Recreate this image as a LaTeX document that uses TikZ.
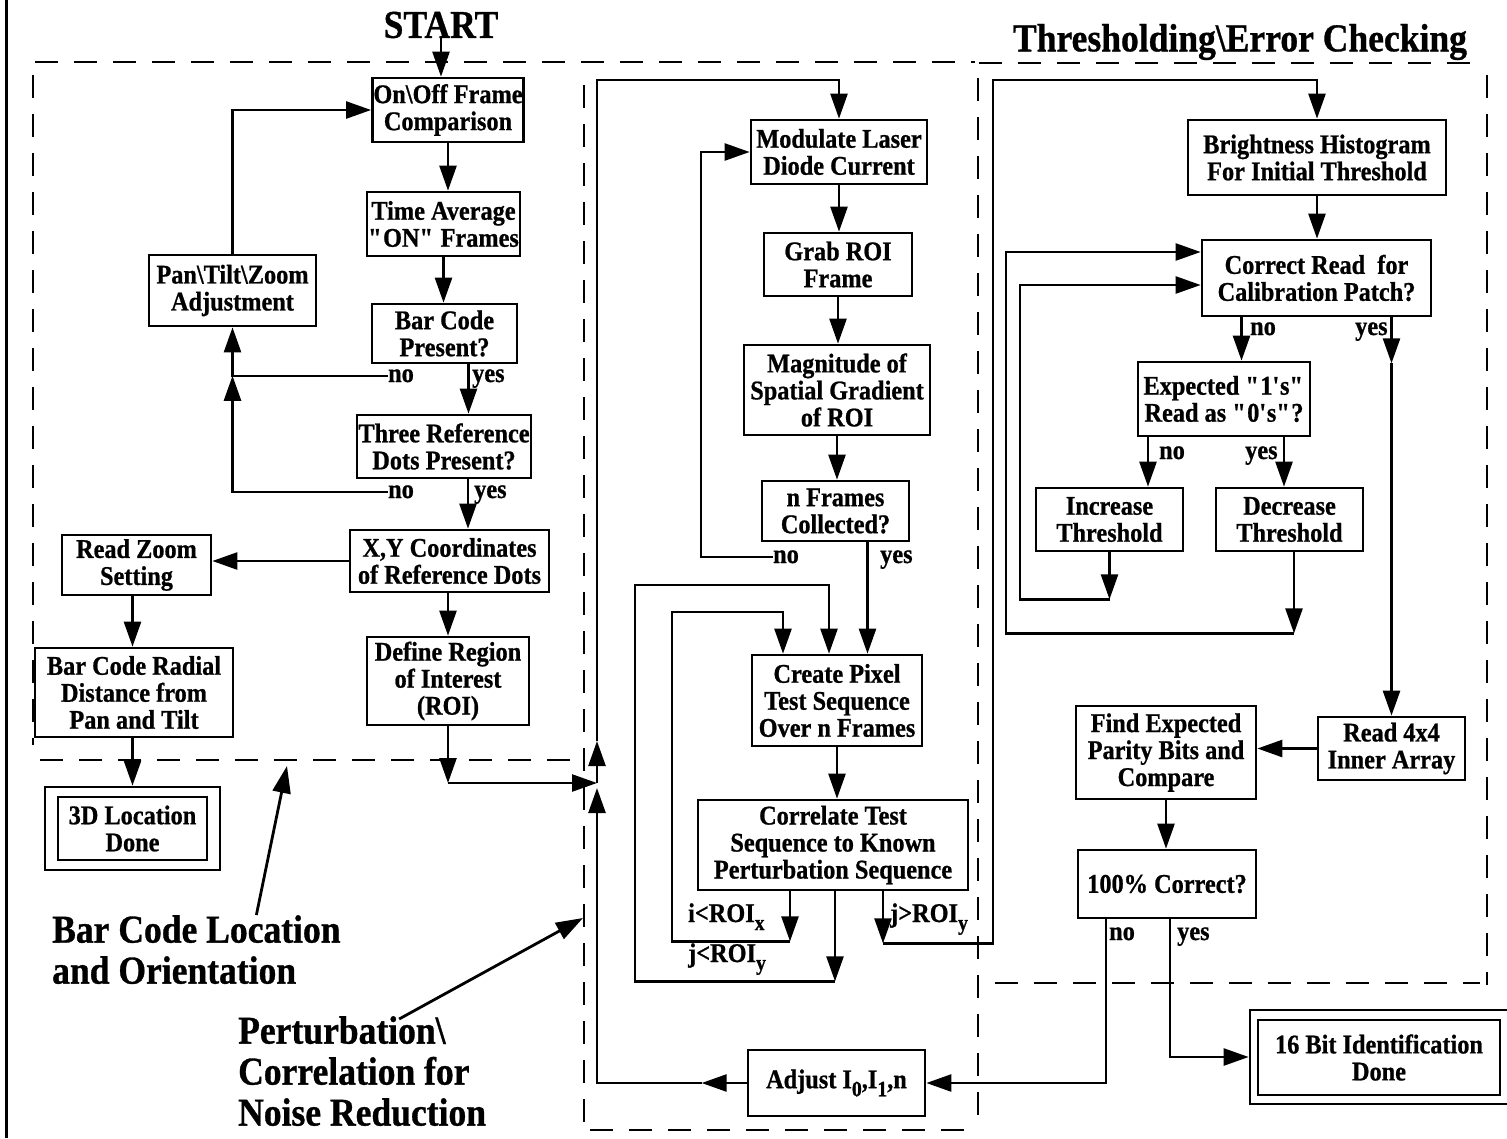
\documentclass[tikz,border=0pt]{standalone}
\usepackage{fontspec}
\setmainfont{Liberation Serif}
\newfontfamily\condbold{Liberation Serif}[UprightFont=* Bold, FakeStretch=0.9, FakeBold=0.8]
\usetikzlibrary{arrows.meta}

\newcommand{\boxfont}{\condbold\fontsize{27}{27}\selectfont}
\newcommand{\bigfont}{\condbold\fontsize{39.5}{41}\selectfont}
\newcommand{\lowr}[1]{\raisebox{-0.3em}{\fontsize{22}{22}\selectfont #1}}
\newcommand{\qd}{\textquotedbl}
\newcommand{\qs}{\textquotesingle}

\begin{document}
\begin{tikzpicture}[x=1pt,y=-1pt,
  blk/.style={draw, line width=2.7pt, align=center, inner sep=1pt, font=\boxfont},
  outerframe/.style={draw, line width=2.7pt, inner sep=0pt},
  lbl/.style={font=\boxfont, inner sep=0pt, anchor=base west},
  big/.style={font=\bigfont, inner sep=0pt},
  arr/.style={line width=2.5pt, -{Triangle[length=25pt,width=17pt]}},
  ptr/.style={line width=2.8pt, -{Triangle[length=27pt,width=18pt]}},
  zone/.style={line width=2pt, dash pattern=on 23pt off 16pt},
]
\useasboundingbox (0,0) rectangle (1507,1138);
\clip (0,0) rectangle (1507,1138);

% page rule on the left
\draw[line width=3pt] (6,0) -- (6,1138);

% dashed outlines of the three stages
\draw[zone] (35,62) -- (975,62);
\draw[zone] (33,75) -- (33,745);
\draw[zone] (40,760) -- (584,760);
\draw[zone] (584,85) -- (584,1130);
\draw[zone] (1470,63) -- (978,63) -- (978,1130);
\draw[zone] (590,1130) -- (975,1130);
\draw[zone] (1487,75) -- (1487,985);
\draw[zone] (995,983) -- (1480,983);

% titles
\node[big] (start) at (441,25) {START};
\node[big] (thr) at (1240,42) {Thresholding\textbackslash Error Checking};
\node[big, anchor=north west, align=left] (barloc) at (52,915) {Bar Code Location\\and Orientation};
\node[big, anchor=north west, align=left] (pert) at (238,1016) {Perturbation\textbackslash\\Correlation for\\Noise Reduction};

% ---- bar code location stage ----
\node[blk, minimum width=148pt, minimum height=64pt] (onoff) at (448,110) {On\textbackslash Off Frame\\Comparison};
\node[blk, minimum width=147pt, minimum height=64pt] (timeavg) at (443.5,224) {Time Average\\\qd ON\qd\ Frames};
\node[blk, minimum width=145pt, minimum height=59pt] (barcode) at (444.5,333.5) {Bar Code\\Present?};
\node[blk, minimum width=174pt, minimum height=63pt] (threeref) at (444,446.5) {Three Reference\\Dots Present?};
\node[blk, minimum width=199pt, minimum height=62pt] (xycoord) at (449.5,561) {X,Y Coordinates\\of Reference Dots};
\node[blk, minimum width=162pt, minimum height=88pt] (defroi) at (448,681) {Define Region\\of Interest\\(ROI)};
\node[blk, minimum width=167pt, minimum height=71pt] (pantilt) at (232.5,290.5) {Pan\textbackslash Tilt\textbackslash Zoom\\Adjustment};
\node[blk, minimum width=149pt, minimum height=60pt] (readzoom) at (136.5,565) {Read Zoom\\Setting};
\node[blk, minimum width=198pt, minimum height=89pt] (radial) at (134,692.5) {Bar Code Radial\\Distance from\\Pan and Tilt};
\node[blk, minimum width=149pt, minimum height=63pt] (loc3d) at (132.5,828.5) {3D Location\\Done};
\node[outerframe, minimum width=175pt, minimum height=83pt] (loc3dbox) at (loc3d) {};

\node[lbl] (bno) at (388,382) {no};
\node[lbl] (byes) at (472,382) {yes};
\node[lbl] (tno) at (388,498) {no};
\node[lbl] (tyes) at (474,498) {yes};

\draw[arr] (start.south) -- (start.south |- onoff.north);
\draw[arr] (onoff.south) -- (onoff.south |- timeavg.north);
\draw[arr] (timeavg.south) -- (timeavg.south |- barcode.north);
\draw[arr] ([xshift=24pt]barcode.south) coordinate (a1) -- (a1 |- threeref.north);
\draw[arr] ([xshift=24pt]threeref.south) coordinate (a2) -- (a2 |- xycoord.north);
\draw[arr] (bno.west) -- (bno.west -| pantilt.south) -- (pantilt.south);
\draw[arr] (tno.west) -- (tno.west -| pantilt.south) -- (bno.west -| pantilt.south);
\draw[arr] (pantilt.north) -- (pantilt.north |- onoff.west) -- (onoff.west);
\draw[arr] (xycoord.west) -- (xycoord.west -| readzoom.east);
\draw[arr] (xycoord.south -| defroi.north) -- (defroi.north);
\draw[arr] (readzoom.south -| loc3dbox.north) -- (radial.north -| loc3dbox.north);
\draw[arr] (radial.south -| loc3dbox.north) -- (loc3dbox.north);

\coordinate (jn) at (597,783);
\coordinate (jup) at (597,741);
\coordinate (lt) at (597,80);
\draw[arr] (defroi.south) -- (defroi.south |- jn);
\draw[arr] (defroi.south |- jn) -- (jn);

% ---- perturbation / correlation stage ----
\node[blk, minimum width=176pt, minimum height=64pt] (modulate) at (839,152) {Modulate Laser\\Diode Current};
\node[blk, minimum width=148pt, minimum height=63pt] (grab) at (838,264.5) {Grab ROI\\Frame};
\node[blk, minimum width=186pt, minimum height=90pt] (magnitude) at (837,390) {Magnitude of\\Spatial Gradient\\of ROI};
\node[blk, minimum width=147pt, minimum height=60pt] (nframes) at (835.5,511) {n Frames\\Collected?};
\node[blk, minimum width=170pt, minimum height=91pt] (createpix) at (837,700.5) {Create Pixel\\Test Sequence\\Over n Frames};
\node[blk, minimum width=270pt, minimum height=90pt] (correlate) at (833,845) {Correlate Test\\Sequence to Known\\Perturbation Sequence};
\node[blk, minimum width=177pt, minimum height=66pt] (adjust) at (836.5,1083) {Adjust I\lowr{0},I\lowr{1},n};

\node[lbl] (nno) at (773,563) {no};
\node[lbl] (nyes) at (880,563) {yes};
\node[lbl] (ilbl) at (688,922) {i<ROI\lowr{x}};
\node[lbl] (jlbl) at (688,962) {j<ROI\lowr{y}};
\node[lbl] (klbl) at (890,922) {j>ROI\lowr{y}};

\draw[arr] (jn) -- (jup);
\draw[arr] (jup) -- (lt) -- (lt -| modulate.north) -- (modulate.north);
\draw[arr] (modulate.south) -- (modulate.south |- grab.north);
\draw[arr] (grab.south) -- (grab.south |- magnitude.north);
\draw[arr] (magnitude.south) -- (magnitude.south |- nframes.north);
\coordinate (nl) at (701,152);
\draw[arr] (nno.west) -- (nno.west -| nl) -- (nl) -- (modulate.west);
\draw[arr] ([xshift=32pt]nframes.south) coordinate (a3) -- (a3 |- createpix.north);
\draw[arr] (createpix.south) -- (createpix.south |- correlate.north);

\coordinate (cit) at ([xshift=-54pt]createpix.north);
\coordinate (cjt) at ([xshift=-8pt]createpix.north);
\coordinate (il) at (672,612);
\coordinate (jl) at (635,585);
\coordinate (kr) at (993,80);
\draw[arr] ([xshift=-43pt]correlate.south) -- ++(0,50) coordinate (cib);
\draw[arr] (cib) -- (cib -| il) -- (il) -- (il -| cit) -- (cit);
\draw[arr] ([xshift=2pt]correlate.south) -- ++(0,90) coordinate (cjb);
\draw[arr] (cjb) -- (cjb -| jl) -- (jl) -- (jl -| cjt) -- (cjt);
\draw[arr] ([xshift=50pt]correlate.south) -- ++(0,52) coordinate (ckb);

\draw[arr] (adjust.west) -- ++(-45,0) coordinate (adl);
\draw[arr] (adl) -- (adl -| jn) -- ([yshift=-5pt]jn);

% ---- thresholding / error checking stage ----
\node[blk, minimum width=258pt, minimum height=75pt] (bright) at (1317,157.5) {Brightness Histogram\\For Initial Threshold};
\node[blk, minimum width=229pt, minimum height=76pt] (corrread) at (1316.5,278) {Correct Read~~for\\Calibration Patch?};
\node[blk, minimum width=172pt, minimum height=74pt] (expected) at (1224,399) {Expected \qd 1\qs s\qd\\Read as \qd 0\qs s\qd ?};
\node[blk, minimum width=147pt, minimum height=63pt] (increase) at (1109.5,519.5) {Increase\\Threshold};
\node[blk, minimum width=147pt, minimum height=63pt] (decrease) at (1289.5,519.5) {Decrease\\Threshold};
\node[blk, minimum width=147pt, minimum height=63pt] (read44) at (1391.5,748.5) {Read 4x4\\Inner Array};
\node[blk, minimum width=180pt, minimum height=93pt] (findexp) at (1166,752.5) {Find Expected\\Parity Bits and\\Compare};
\node[blk, minimum width=178pt, minimum height=68pt] (correct100) at (1167,884) {100\% Correct?};
\node[blk, minimum width=242pt, minimum height=75pt] (bit16) at (1379,1057.5) {16 Bit Identification\\Done};
\node[outerframe, minimum width=262pt, minimum height=94pt] (bit16box) at (1381,1057) {};

\draw[arr] (ckb) -- (ckb -| kr) -- (kr) -- (kr -| bright.north) -- (bright.north);

\node[lbl] (cno) at (1250,335) {no};
\node[lbl] (cyes) at (1355,335) {yes};
\node[lbl] (eno) at (1159,459) {no};
\node[lbl] (eyes) at (1245,459) {yes};
\node[lbl] (pno) at (1109,940) {no};
\node[lbl] (pyes) at (1177,940) {yes};

\draw[arr] (bright.south) -- (bright.south |- corrread.north);
\draw[arr] ([xshift=-75pt]corrread.south) coordinate (a4) -- (a4 |- expected.north);
\draw[arr] ([xshift=75pt]corrread.south) -- ++(0,46) coordinate (a5);
\draw[arr] (a5) -- (a5 |- read44.north);
\draw[arr] ([xshift=-76pt]expected.south) coordinate (a6) -- (a6 |- increase.north);
\draw[arr] ([xshift=60pt]expected.south) coordinate (a7) -- (a7 |- decrease.north);
\coordinate (lp1) at (1020,285);
\coordinate (lp2) at (1006,252);
\draw[arr] (increase.south) -- ++(0,47) coordinate (a8);
\draw[arr] (a8) -- (a8 -| lp1) -- (lp1) -- ([yshift=-7pt]corrread.west);
\draw[arr] ([xshift=4.5pt]decrease.south) -- ++(0,81) coordinate (a9);
\draw[arr] (a9) -- (a9 -| lp2) -- (lp2) -- ([yshift=26pt]corrread.west);
\draw[arr] (read44.west) -- (read44.west -| findexp.east);
\draw[arr] (findexp.south) -- (findexp.south |- correct100.north);
\draw[arr] ([xshift=-61pt]correct100.south) coordinate (a10) -- (a10 |- adjust.east) -- (adjust.east);
\draw[arr] ([xshift=3pt]correct100.south) coordinate (a11) -- (a11 |- bit16box.west) -- (bit16box.west);

% pointers from the stage captions
\coordinate (p1) at (287,766);
\coordinate (p2) at (583,918);
\draw[ptr] ([xshift=60pt]barloc.north) -- (p1);
\draw[ptr] ([xshift=37pt,yshift=-3pt]pert.north) -- (p2);
\end{tikzpicture}
\end{document}
